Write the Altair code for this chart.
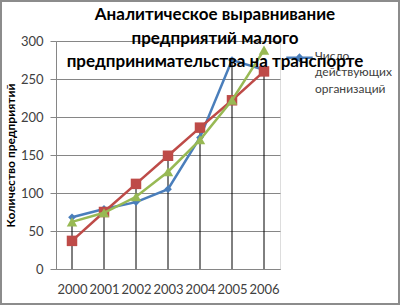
import altair as alt
import pandas as pd

years = ["2000", "2001", "2002", "2003", "2004", "2005", "2006"]
blue_vals = [68, 79, 88, 105, 173, 275, 262]
red_vals = [37, 75, 112, 149, 186, 222, 260]
green_vals = [62, 74, 95, 128, 170, 222, 288]
legend_label = "Число действующих организаций"
title_lines = ["Аналитическое выравнивание", "предприятий малого", "предпринимательства на транспорте"]
y_title = "Количество предприятий"

df = pd.DataFrame({
    "year": years,
    "blue": blue_vals,
    "red": red_vals,
    "green": green_vals,
    "top": [max(b, r) for b, r in zip(blue_vals, red_vals)],
    "series": [legend_label] * len(years),
})

FONT = "Lato"
xaxis = alt.Axis(title=None, labelAngle=0, ticks=False, domain=True,
                 domainColor="#868686", labelPadding=14, labelFontSize=13,
                 labelColor="#404040", labelFont=FONT)
xenc = alt.X("year:O", scale=alt.Scale(type="point", padding=0.5), axis=xaxis)
yscale = alt.Scale(domain=[0, 300], nice=False)
yaxis = alt.Axis(title=y_title, values=[0, 50, 100, 150, 200, 250, 300], grid=True,
                 gridColor="#868686", domainColor="#868686", tickColor="#868686",
                 tickSize=6, labelPadding=7, labelFontSize=13, labelColor="#404040",
                 labelFont=FONT, labelOverlap=False, titleFont=FONT, titleFontSize=12,
                 titleFontWeight="bold", titleColor="#000000", titlePadding=3)

base = alt.Chart(df)

drops = base.mark_rule(color="#000000", strokeWidth=1).encode(
    x=xenc,
    y=alt.Y("top:Q", scale=yscale, axis=yaxis),
    y2=alt.Y2(datum=0),
)

legend_symbol = "M-1,-0.13L1,-0.13M0,-0.33L0.2,-0.13L0,0.07L-0.2,-0.13Z"

blue = base.mark_line(strokeWidth=2.5, point=alt.OverlayMarkDef(shape="diamond", size=60, filled=True)).encode(
    x=xenc,
    y=alt.Y("blue:Q", scale=yscale, axis=yaxis),
    color=alt.Color("series:N", scale=alt.Scale(range=["#4A7EBB"]),
                    legend=alt.Legend(title=None, orient="none", legendX=229, legendY=4,
                                      symbolType=legend_symbol, symbolSize=700,
                                      symbolStrokeWidth=2.5, labelFont=FONT, labelFontSize=12,
                                      labelColor="#404040", labelLimit=200,
                                      labelExpr="split(datum.label, ' ')",
                                      labelBaseline="alphabetic", labelOffset=1)),
)
red = base.mark_line(strokeWidth=2.5, color="#BE4B48",
                     point=alt.OverlayMarkDef(shape="square", size=110, filled=True, color="#BE4B48")).encode(
    x=xenc,
    y=alt.Y("red:Q", scale=yscale, axis=yaxis),
)
green = base.mark_line(strokeWidth=2.5, color="#98B954",
                       point=alt.OverlayMarkDef(shape="triangle-up", size=110, filled=True, color="#98B954")).encode(
    x=xenc,
    y=alt.Y("green:Q", scale=yscale, axis=yaxis),
)

border = base.mark_rect(fill=None, stroke="#8c8c8c", strokeWidth=1.5).encode(
    x=alt.value(-55), x2=alt.value(343), y=alt.value(-40), y2=alt.value(263)
)

chart = alt.layer(drops, blue, red, green, border).properties(
    width=224, height=228,
    padding={"left": 56, "top": 41, "right": 121, "bottom": 37},
    autosize=alt.AutoSizeParams(type="none"),
    title=alt.TitleParams(text=title_lines, anchor="middle", dx=47, offset=-71,
                          font=FONT, fontSize=17, fontWeight="bold", color="#000000",
                          lineHeight=23.5),
).configure_view(stroke=None).configure(
    background="white", style={"guide-label": {"lineHeight": 16.5}}
)

chart.save("out.html", embed_options={"renderer": "svg", "actions": False})
